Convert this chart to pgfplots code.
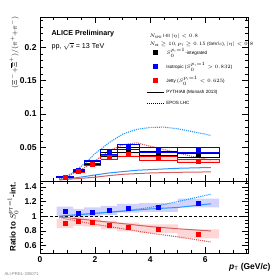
\documentclass[border=0pt]{standalone}
\usepackage{pgfplots}
\pgfplotsset{compat=1.18}
\usepackage{fontspec}
\setmainfont{Liberation Sans}
\definecolor{pyblue}{RGB}{40,150,255}
\definecolor{pyred}{RGB}{215,95,95}
\definecolor{mblue}{RGB}{0,0,255}
\definecolor{mred}{RGB}{255,0,0}
\begin{document}
\begin{tikzpicture}
\pgfplotsset{
  common/.style={
    scale only axis, width=208bp,
    xmin=0, xmax=7.55,
    axis line style={line width=0.8bp},
    tick align=inside, tick pos=both,
    major tick length=6bp, minor tick length=3bp,
    every tick/.style={black, line width=0.6bp},
    xtick={0,2,4,6},
    minor xtick={0.5,1,1.5,2.5,3,3.5,4.5,5,5.5,6.5,7,7.5},
    tick label style={font=\bfseries\fontsize{8.5}{9}\selectfont},
    unbounded coords=jump,
  }
}
% ---------------- top panel ----------------
\begin{axis}[common, at={(40bp,98bp)}, anchor=south west, height=164bp,
  ymin=0, ymax=0.245,
  ytick={0.05,0.1,0.15,0.2}, yticklabels={0.05,0.1,0.15,0.2},
  minor ytick={0.01,0.02,0.03,0.04,0.06,0.07,0.08,0.09,0.11,0.12,0.13,0.14,0.16,0.17,0.18,0.19,0.21,0.22,0.23,0.24},
  xticklabels={},
  legend style={at={(rel axis cs:0.51,0.82)}, anchor=north west, draw=none, fill=none,
    font=\fontsize{4.6}{5}\selectfont, row sep=2.4bp, inner sep=0pt,
    cells={anchor=west}},
  legend cell align=left,
]
\addlegendimage{only marks, mark=square*, black, mark size=2bp}
\addlegendentry{$S_{0}^{p_{\mathrm{T}}=1}$-integrated}
\addlegendimage{only marks, mark=square*, mblue, mark size=2bp}
\addlegendentry{Isotropic ($S_{0}^{p_{\mathrm{T}}=1}>0.832$)}
\addlegendimage{only marks, mark=square*, mred, mark size=2bp}
\addlegendentry{Jetty ($S_{0}^{p_{\mathrm{T}}=1}<0.625$)}
\addlegendimage{black, line width=1bp}
\addlegendentry{PYTHIA8 (Monash 2013)}
\addlegendimage{black, line width=1bp, densely dotted}
\addlegendentry{EPOS LHC}
% models
\addplot[forget plot, pyblue, line width=1.1bp, densely dotted] coordinates {
(0.7,0.003)(1.0,0.008)(1.25,0.014)(1.5,0.022)(1.75,0.031)(2.0,0.041)(2.5,0.057)(3.0,0.070)(3.5,0.077)(4.0,0.080)(4.5,0.0805)(5.0,0.078)(5.5,0.074)(6.0,0.070)(6.2,0.068)};
\addplot[forget plot, pyred, line width=1.1bp, densely dotted] coordinates {
(0.7,0.003)(1.0,0.007)(1.5,0.017)(2.0,0.030)(2.5,0.045)(3.0,0.054)(3.5,0.057)(4.0,0.052)(4.5,0.047)(5.0,0.042)(5.5,0.037)(6.0,0.033)(6.2,0.031)};
\addplot[forget plot, pyblue, line width=1bp] coordinates {
(0.7,0.002)(1.0,0.003)(1.5,0.006)(2.0,0.009)(2.5,0.012)(3.0,0.014)(3.5,0.016)(4.0,0.017)(4.5,0.018)(5.0,0.019)(5.5,0.0195)(6.0,0.020)(6.2,0.020)};
\addplot[forget plot, pyred, line width=1bp] coordinates {
(0.7,0.0015)(1.0,0.0025)(1.5,0.004)(2.0,0.0057)(2.5,0.008)(3.0,0.010)(3.5,0.011)(4.0,0.012)(4.5,0.0125)(5.0,0.013)(5.5,0.0132)(6.0,0.0135)(6.2,0.0135)};
% systematic boxes
\addplot[forget plot, mred, line width=0.6bp, fill=mred!20, fill opacity=0.6] coordinates {
(0.6,0.0050)(1.2,0.0050)(1.2,0.0058)(0.6,0.0058)(0.6,0.0050)(nan,nan)
(1.2,0.0137)(1.6,0.0137)(1.6,0.0161)(1.2,0.0161)(1.2,0.0137)(nan,nan)
(1.6,0.0228)(2.2,0.0228)(2.2,0.0268)(1.6,0.0268)(1.6,0.0228)(nan,nan)
(2.2,0.0324)(2.8,0.0324)(2.8,0.0380)(2.2,0.0380)(2.2,0.0324)(nan,nan)
(2.8,0.0362)(3.6,0.0362)(3.6,0.0424)(2.8,0.0424)(2.8,0.0362)(nan,nan)
(3.6,0.0313)(5.0,0.0313)(5.0,0.0367)(3.6,0.0367)(3.6,0.0313)(nan,nan)
(5.0,0.0272)(6.5,0.0272)(6.5,0.0320)(5.0,0.0320)(5.0,0.0272)};
\addplot[forget plot, black, line width=0.6bp] coordinates {
(0.6,0.0055)(1.2,0.0055)(1.2,0.0065)(0.6,0.0065)(0.6,0.0055)(nan,nan)
(1.2,0.0147)(1.6,0.0147)(1.6,0.0173)(1.2,0.0173)(1.2,0.0147)(nan,nan)
(1.6,0.0248)(2.2,0.0248)(2.2,0.0292)(1.6,0.0292)(1.6,0.0248)(nan,nan)
(2.2,0.0368)(2.8,0.0368)(2.8,0.0432)(2.2,0.0432)(2.2,0.0368)(nan,nan)
(2.8,0.0423)(3.6,0.0423)(3.6,0.0497)(2.8,0.0497)(2.8,0.0423)(nan,nan)
(3.6,0.0377)(5.0,0.0377)(5.0,0.0443)(3.6,0.0443)(3.6,0.0377)(nan,nan)
(5.0,0.0359)(6.5,0.0359)(6.5,0.0421)(5.0,0.0421)(5.0,0.0359)};
\addplot[forget plot, mblue, line width=0.6bp] coordinates {
(0.6,0.0059)(1.2,0.0059)(1.2,0.0069)(0.6,0.0069)(0.6,0.0059)(nan,nan)
(1.2,0.0153)(1.6,0.0153)(1.6,0.0179)(1.2,0.0179)(1.2,0.0153)(nan,nan)
(1.6,0.0263)(2.2,0.0263)(2.2,0.0309)(1.6,0.0309)(1.6,0.0263)(nan,nan)
(2.2,0.0397)(2.8,0.0397)(2.8,0.0467)(2.2,0.0467)(2.2,0.0397)(nan,nan)
(2.8,0.0470)(3.6,0.0470)(3.6,0.0552)(2.8,0.0552)(2.8,0.0470)(nan,nan)
(3.6,0.0422)(5.0,0.0422)(5.0,0.0496)(3.6,0.0496)(3.6,0.0422)(nan,nan)
(5.0,0.0423)(6.5,0.0423)(6.5,0.0497)(5.0,0.0497)(5.0,0.0423)};
% data points
\addplot[forget plot, only marks, mark=square*, black, mark size=2bp] coordinates {
(0.9,0.006)(1.4,0.016)(1.9,0.027)(2.5,0.040)(3.2,0.046)(4.3,0.041)(5.75,0.039)};
\addplot[forget plot, only marks, mark=square*, mblue, mark size=2bp] coordinates {
(0.9,0.0064)(1.4,0.0166)(1.9,0.0286)(2.5,0.0432)(3.2,0.0511)(4.3,0.0459)(5.75,0.046)};
\addplot[forget plot, only marks, mark=square*, mred, mark size=2bp] coordinates {
(0.9,0.0054)(1.4,0.0149)(1.9,0.0248)(2.5,0.0352)(3.2,0.0393)(4.3,0.034)(5.75,0.0296)};
\end{axis}
% ---------------- bottom panel ----------------
\begin{axis}[common, at={(40bp,26bp)}, anchor=south west, height=72bp,
  ymin=0.5, ymax=1.48,
  ytick={0.6,0.8,1,1.2,1.4}, yticklabels={0.6,0.8,1,1.2,1.4},
  minor ytick={0.55,0.65,0.7,0.75,0.85,0.9,0.95,1.05,1.1,1.15,1.25,1.3,1.35,1.45},
  xticklabels={0,2,4,6},
]
\addplot[mblue, draw=none, fill=mblue!22, fill opacity=0.8] coordinates {
(0.6,1.01)(1.2,1.01)(1.2,1.13)(0.6,1.13)(0.6,1.01)(nan,nan)
(1.2,0.98)(1.6,0.98)(1.6,1.10)(1.2,1.10)(1.2,0.98)(nan,nan)
(1.6,1.00)(2.2,1.00)(2.2,1.12)(1.6,1.12)(1.6,1.00)(nan,nan)
(2.2,1.02)(2.8,1.02)(2.8,1.14)(2.2,1.14)(2.2,1.02)(nan,nan)
(2.8,1.05)(3.6,1.05)(3.6,1.17)(2.8,1.17)(2.8,1.05)(nan,nan)
(3.6,1.06)(5.0,1.06)(5.0,1.18)(3.6,1.18)(3.6,1.06)(nan,nan)
(5.0,1.12)(6.5,1.12)(6.5,1.24)(5.0,1.24)(5.0,1.12)};
\addplot[mred, draw=none, fill=mred!20, fill opacity=0.8] coordinates {
(0.6,0.84)(1.2,0.84)(1.2,0.96)(0.6,0.96)(0.6,0.84)(nan,nan)
(1.2,0.87)(1.6,0.87)(1.6,0.99)(1.2,0.99)(1.2,0.87)(nan,nan)
(1.6,0.86)(2.2,0.86)(2.2,0.98)(1.6,0.98)(1.6,0.86)(nan,nan)
(2.2,0.82)(2.8,0.82)(2.8,0.94)(2.2,0.94)(2.2,0.82)(nan,nan)
(2.8,0.795)(3.6,0.795)(3.6,0.915)(2.8,0.915)(2.8,0.795)(nan,nan)
(3.6,0.77)(5.0,0.77)(5.0,0.89)(3.6,0.89)(3.6,0.77)(nan,nan)
(5.0,0.70)(6.5,0.70)(6.5,0.82)(5.0,0.82)(5.0,0.70)};
\addplot[black, line width=0.6bp, densely dashed] coordinates {(0,1)(7.55,1)};
\addplot[pyblue, line width=1.1bp, densely dotted] coordinates {
(0.7,1.0)(1,1.01)(2,1.04)(3,1.07)(4,1.12)(5,1.20)(6.2,1.30)};
\addplot[pyblue, line width=1bp] coordinates {
(0.7,1.0)(1,1.01)(2,1.04)(3,1.07)(4,1.10)(5,1.12)(5.5,1.14)(6.2,1.17)};
\addplot[pyred, line width=1.1bp, densely dotted] coordinates {
(0.7,0.98)(1,0.96)(2,0.89)(3,0.83)(4,0.77)(5,0.72)(6.2,0.65)};
\addplot[pyred, line width=1bp] coordinates {
(0.7,0.99)(1,0.98)(2,0.94)(3,0.90)(4,0.86)(5,0.83)(6.2,0.80)};
\addplot[only marks, mark=square*, mblue, mark size=2bp] coordinates {
(0.9,1.07)(1.4,1.04)(1.9,1.06)(2.5,1.08)(3.2,1.11)(4.3,1.12)(5.75,1.18)};
\addplot[only marks, mark=square*, mred, mark size=2bp] coordinates {
(0.9,0.90)(1.4,0.93)(1.9,0.92)(2.5,0.88)(3.2,0.855)(4.3,0.83)(5.75,0.76)};
\end{axis}
% ---------------- texts ----------------
\node[anchor=west, font=\bfseries\fontsize{7.2}{8}\selectfont] at (48bp,245bp) {ALICE Preliminary};
\node[anchor=west, font=\fontsize{7.2}{8}\selectfont] at (48bp,233bp) {pp, $\sqrt{s}$ = 13 TeV};
\node[anchor=west, font=\fontsize{4.6}{5}\selectfont] at (146bp,243bp) {$N_{\mathrm{SPD}}$ I-III $|\eta|<0.8$};
\node[anchor=west, font=\fontsize{4.6}{5}\selectfont] at (146bp,235bp) {$N_{\mathrm{trk}}\geq 10$, $p_{\mathrm{T}}\geq 0.15$ (GeV/$c$), $|\eta|<0.8$};
\node[rotate=90, anchor=east, inner sep=0pt, font=\bfseries\fontsize{7.4}{8}\selectfont] at (14bp,263bp) {$(\Xi^{-}{+}\overline{\Xi}^{+})/(\pi^{+}{+}\pi^{-})$};
\node[rotate=90, font=\bfseries\fontsize{8}{9}\selectfont] at (13bp,62bp) {Ratio to $S_{0}^{p_{\mathrm{T}}=1}$-int.};
\node[anchor=east, font=\bfseries\fontsize{8.5}{9}\selectfont] at (274bp,12bp) {{\itshape p}$_{\mathrm{T}}$ (GeV/{\itshape c})};
\node[anchor=west, font=\fontsize{4.2}{5}\selectfont, text=gray] at (1bp,5bp) {ALI-PREL-335071};
\pgfresetboundingbox
\path[use as bounding box] (0,0) rectangle (276bp,279bp);
\end{tikzpicture}
\end{document}
